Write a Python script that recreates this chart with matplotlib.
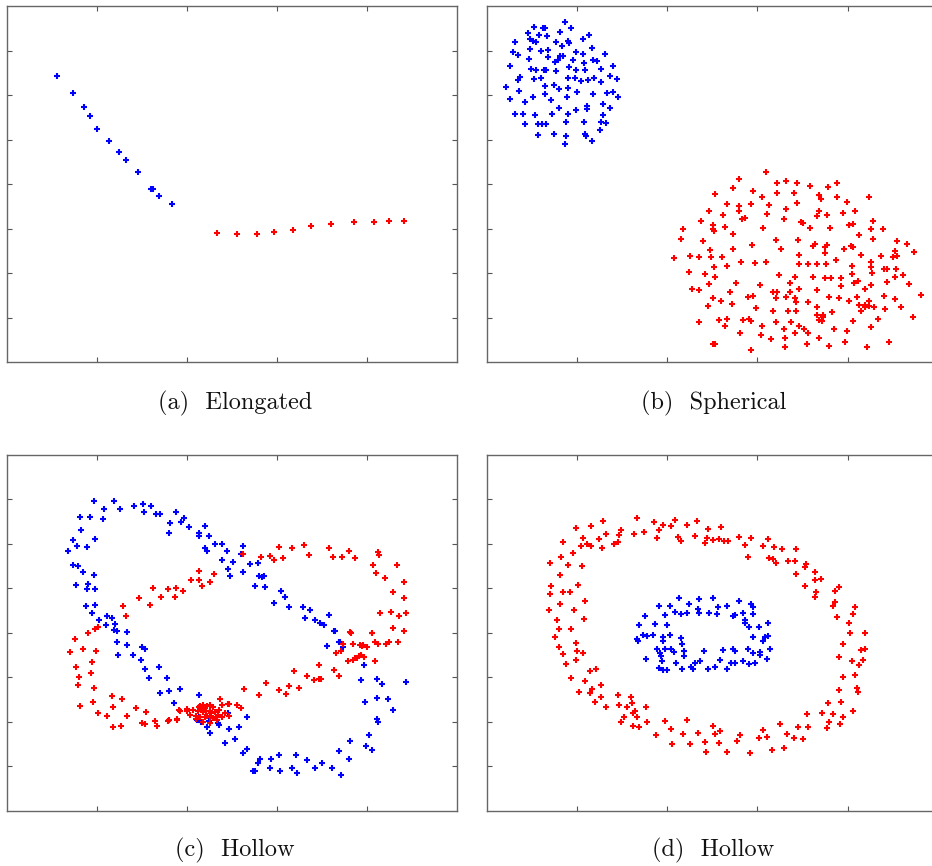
import numpy as np
from matplotlib import pyplot as plt

# Data (arbitrary units, frame is 1352 x 1068)
# (a) Elongated
a_blue_x = [152, 200, 231, 250, 271, 307, 337, 359, 393, 433, 438, 456, 497]
a_blue_y = [859, 807, 766, 739, 700, 664, 632, 608, 572, 521, 519, 498, 474]
a_red_x = [632, 690, 750, 802, 858, 913, 974, 1043, 1102, 1147, 1193]
a_red_y = [387, 384, 384, 390, 398, 408, 414, 420, 420, 423, 423]

# (b) Spherical
b_blue_x = [140, 167, 174, 235, 253, 123, 155, 180, 220, 307, 129, 137, 147, 84, 287, 207, 224, 243, 245, 314,
            130, 161, 183, 77, 92, 125, 183, 218, 227, 205, 212, 267, 289, 257, 292, 317, 331, 353, 70, 131,
            147, 170, 177, 207, 246, 267, 294, 343, 377, 93, 99, 140, 161, 242, 263, 282, 303, 321, 343, 369,
            391, 58, 97, 174, 173, 201, 215, 243, 269, 317, 359, 377, 393, 70, 113, 138, 193, 241, 267, 299,
            300, 349, 347, 370, 85, 109, 144, 195, 217, 243, 113, 152, 165, 178, 237, 290, 341, 357, 340, 153,
            201, 237, 293, 298, 314, 234]
b_blue_y = [1005, 1002, 1002, 1019, 1001, 987, 981, 977, 990, 981, 969, 962, 959, 961, 968, 959, 947, 962, 958, 942,
            939, 934, 937, 930, 922, 909, 915, 917, 917, 901, 905, 929, 925, 907, 897, 905, 903, 925, 887, 879,
            876, 876, 876, 874, 886, 877, 877, 878, 889, 847, 854, 848, 851, 853, 853, 843, 847, 853, 841, 857,
            850, 825, 812, 829, 805, 831, 819, 822, 809, 803, 808, 811, 795, 789, 781, 795, 786, 795, 755, 767,
            759, 773, 742, 761, 745, 745, 742, 745, 763, 745, 714, 714, 714, 714, 719, 721, 720, 717, 697, 680,
            683, 677, 684, 678, 663, 654]
b_red_x = [837, 757, 869, 897, 929, 969, 1023, 1049, 683, 739, 798, 825, 871, 921, 995, 1003, 1051, 1145, 665, 721,
           755, 755, 791, 845, 931, 997, 1021, 1067, 1081, 1105, 589, 643, 679, 707, 713, 764, 775, 841, 897, 941,
           949, 991, 1029, 1087, 1097, 1159, 581, 647, 677, 681, 737, 829, 891, 868, 933, 969, 983, 1019, 1091, 1099,
           1115, 1153, 1159, 1187, 1231, 1259, 561, 609, 635, 673, 705, 669, 737, 761, 795, 805, 837, 881, 935, 977,
           1013, 1015, 1047, 1071, 1095, 1121, 1151, 1183, 1223, 1219, 1229, 1281, 607, 653, 681, 683, 721, 747, 819, 877,
           909, 925, 937, 963, 989, 1017, 1013, 977, 1033, 1061, 1095, 1113, 1153, 1155, 1191, 1199, 1227, 1225, 1265, 615,
           637, 667, 729, 799, 857, 869, 909, 935, 991, 1061, 1101, 1133, 1153, 1199, 1247, 1303, 679, 703, 783, 867,
           897, 925, 927, 962, 991, 1027, 1057, 1085, 1109, 1117, 1133, 1147, 1161, 1145, 1191, 1195, 1223, 1241, 663, 735,
           807, 859, 903, 927, 989, 1007, 1005, 1035, 1123, 1135, 637, 697, 721, 767, 787, 793, 715, 825, 867, 891,
           913, 937, 951, 995, 1009, 1041, 1079, 1097, 1151, 1173, 1279, 759, 821, 851, 895, 923, 963, 995, 961, 683,
           677, 793, 895, 1027, 1075, 1141, 1205]
b_red_y = [570, 549, 539, 545, 539, 530, 526, 539, 504, 523, 515, 496, 508, 508, 501, 490, 495, 497, 453, 476,
           468, 453, 474, 473, 478, 455, 443, 449, 480, 453, 401, 423, 413, 443, 407, 431, 432, 445, 460, 422,
           419, 439, 402, 411, 415, 425, 370, 365, 399, 395, 384, 404, 430, 366, 367, 403, 354, 351, 350, 347,
           381, 399, 369, 400, 365, 354, 313, 318, 317, 316, 317, 338, 341, 300, 353, 298, 302, 339, 322, 348,
           329, 347, 308, 339, 290, 323, 300, 318, 335, 317, 319, 330, 271, 265, 287, 257, 289, 238, 232, 262,
           237, 256, 295, 295, 295, 295, 253, 255, 254, 254, 265, 245, 287, 269, 281, 279, 281, 255, 235, 220,
           217, 235, 210, 198, 211, 211, 212, 219, 217, 230, 237, 221, 232, 241, 261, 203, 194, 185, 197, 194,
           195, 194, 180, 180, 167, 197, 194, 184, 197, 172, 173, 169, 165, 185, 199, 161, 190, 166, 170, 175,
           163, 154, 153, 155, 141, 143, 125, 152, 155, 167, 121, 127, 129, 127, 129, 125, 109, 109, 122, 99,
           122, 109, 100, 128, 137, 101, 93, 123, 107, 129, 135, 89, 82, 69, 72, 89, 88, 74, 55, 55,
           55, 37, 45, 48, 62, 45, 60]

# (c) Hollow, two interlocked rings
c_blue_x = [263, 322, 293, 341, 220, 250, 289, 382, 408, 411, 432, 449, 461, 508, 491, 522, 533, 488, 546, 576,
            578, 596, 608, 200, 212, 241, 264, 223, 184, 594, 602, 626, 647, 662, 646, 680, 708, 703, 730, 753,
            200, 214, 228, 209, 245, 263, 266, 242, 239, 266, 256, 278, 302, 316, 298, 326, 321, 332, 360, 663,
            670, 710, 757, 766, 772, 745, 776, 823, 836, 802, 848, 890, 910, 896, 924, 940, 952, 968, 986, 331,
            360, 334, 380, 406, 414, 403, 415, 427, 457, 480, 460, 486, 521, 502, 578, 962, 998, 1008, 1072, 1064,
            1112, 1126, 1198, 1076, 1112, 1144, 1158, 1110, 1114, 1086, 1078, 1096, 1030, 1028, 996, 1002, 976, 946, 926, 900,
            868, 872, 856, 818, 820, 790, 792, 760, 755, 738, 746, 720, 708, 686, 654, 668, 698, 638, 610, 602,
            582, 608, 578, 720, 570, 635, 665, 982, 1000]
c_blue_y = [929, 929, 905, 905, 881, 881, 875, 913, 920, 895, 913, 891, 891, 895, 864, 867, 878, 833, 851, 833,
            825, 855, 825, 813, 795, 792, 816, 843, 779, 788, 779, 800, 800, 779, 751, 746, 795, 770, 739, 744,
            736, 733, 717, 677, 681, 707, 665, 665, 614, 618, 594, 573, 585, 579, 557, 562, 544, 540, 538, 725,
            703, 715, 703, 701, 703, 676, 672, 661, 643, 625, 613, 613, 602, 578, 573, 563, 557, 587, 541, 507,
            497, 468, 469, 493, 487, 452, 427, 398, 433, 399, 355, 361, 365, 323, 349, 494, 507, 493, 437, 393,
            397, 382, 386, 327, 339, 337, 303, 275, 267, 227, 196, 184, 211, 156, 181, 109, 129, 145, 129, 153,
            167, 113, 129, 167, 121, 128, 157, 155, 145, 121, 121, 186, 175, 217, 205, 247, 253, 258, 235, 253,
            268, 271, 281, 281, 273, 263, 293, 541, 508]
c_red_x = [190, 204, 230, 267, 243, 266, 274, 257, 209, 216, 214, 252, 262, 220, 260, 273, 302, 315, 318, 346,
           343, 320, 362, 388, 418, 406, 416, 446, 452, 484, 512, 516, 540, 550, 568, 578, 586, 592, 600, 612,
           620, 630, 640, 638, 668, 666, 690, 702, 713, 758, 777, 816, 838, 848, 876, 862, 902, 922, 936, 944,
           938, 982, 996, 988, 1002, 1010, 1024, 1038, 1044, 1058, 1072, 1066, 1080, 1104, 1032, 1096, 1104, 1114, 1138, 1146,
           1174, 1160, 1192, 1120, 1152, 1176, 1198, 1160, 1192, 1192, 1134, 1108, 1100, 1170, 1114, 1118, 1044, 1028, 1006, 980,
           968, 908, 892, 856, 816, 828, 802, 790, 764, 710, 622, 610, 578, 576, 587, 554, 528, 508, 505, 483,
           464, 438, 430, 397, 358, 348,
           # dense knot where the two rings cross at the bottom
           580, 590, 600, 610, 620, 645, 665, 560, 575, 588, 598, 610, 625, 520, 540, 568, 580, 595,
           610, 620, 635, 645, 655, 590, 610, 630, 488, 510, 1062, 1052, 1030, 1095, 1040, 1060, 1070]
c_red_y = [476, 517, 485, 480, 535, 547, 553, 447, 431, 403, 379, 413, 369, 316, 328, 295, 285, 345, 313, 336,
           255, 251, 285, 309, 297, 263, 261, 269, 255, 271, 277, 303, 305, 287, 277, 313, 305, 311, 285, 295,
           279, 283, 335, 303, 321, 285, 317, 309, 366, 347, 384, 363, 350, 376, 369, 421, 405, 393, 397, 397,
           437, 423, 405, 473, 479, 501, 451, 453, 459, 465, 461, 496, 493, 451, 533, 533, 507, 501, 501, 507,
           507, 549, 541, 595, 597, 585, 595, 657, 639, 687, 697, 713, 738, 737, 775, 767, 757, 779, 761, 761,
           787, 766, 797, 789, 792, 757, 751, 763, 761, 769, 709, 688, 719, 693, 676, 691, 661, 668, 643, 665,
           641, 670, 619, 640, 585, 615,
           315, 318, 315, 318, 313, 318, 321, 303, 301, 298, 301, 301, 298, 301, 301, 285, 283, 281,
           283, 278, 288, 283, 293, 268, 265, 273, 273, 273, 468, 458, 538, 533, 501, 498, 498]

# (d) Hollow, ring around a ring
d_red_x = [347, 449, 501, 529, 551, 563, 601, 631, 662, 703, 267, 311, 357, 403, 441, 471, 517, 573, 581, 625,
           661, 677, 697, 711, 723, 653, 755, 793, 843, 827, 861, 885, 927, 775, 783, 289, 299, 335, 345, 397,
           393, 381, 511, 227, 221, 257, 283, 313, 243, 285, 189, 219, 273, 191, 189, 227, 249, 220, 187, 261,
           293, 209, 215, 251, 291, 205, 215, 229, 237, 267, 271, 287, 267, 253, 295, 309, 327, 275, 315, 309,
           323, 343, 343, 357, 393, 397, 431, 435, 419, 445, 437, 449, 477, 481, 403, 411, 439, 457, 507, 535,
           551, 555, 587, 599, 609, 633, 657, 655, 679, 685, 697, 699, 719, 749, 759, 789, 815, 827, 841, 855,
           879, 891, 899, 921, 933, 947, 963, 959, 1005, 1021, 1025, 1037, 1059, 1067, 1097, 1023, 1061, 1057, 1069, 1103,
           1109, 1113, 1057, 1095, 1117, 1127, 1123, 1133, 1067, 1089, 1133, 1087, 1049, 1099, 1105, 1043, 1045, 1055, 1037, 983,
           987, 983, 1001, 955, 927, 953, 957, 903, 923, 867, 859, 845, 983]
d_red_y = [869, 878, 866, 857, 854, 873, 857, 868, 844, 851, 848, 853, 831, 841, 831, 835, 843, 821, 810, 825,
           818, 813, 815, 810, 808, 803, 822, 818, 815, 793, 791, 785, 785, 797, 761, 817, 801, 815, 789, 827,
           806, 801, 817, 807, 762, 772, 793, 795, 737, 735, 744, 708, 679, 674, 650, 657, 657, 621, 604, 603,
           629, 573, 547, 547, 577, 522, 493, 470, 440, 505, 479, 473, 453, 399, 391, 421, 427, 357, 367, 353,
           326, 377, 341, 311, 347, 319, 341, 323, 313, 301, 295, 283, 311, 268, 268, 283, 255, 251, 228, 269,
           247, 201, 230, 273, 201, 234, 177, 207, 255, 231, 205, 241, 177, 211, 229, 173, 218, 243, 221, 183,
           261, 189, 231, 220, 251, 216, 253, 291, 295, 249, 268, 291, 261, 283, 301, 325, 327, 363, 403, 408,
           368, 357, 461, 451, 437, 453, 483, 485, 501, 534, 535, 565, 583, 591, 613, 627, 659, 672, 615, 643,
           657, 692, 695, 675, 711, 731, 739, 750, 750, 743, 755, 759, 717]
d_blue_x = [577, 637, 679, 755, 793, 799, 515, 549, 607, 633, 635, 667, 693, 719, 689, 737, 745, 767, 799, 457,
            475, 503, 533, 541, 565, 582, 599, 773, 775, 787, 817, 843, 467, 479, 449, 453, 497, 527, 527, 549,
            581, 585, 797, 833, 843, 849, 829, 477, 509, 519, 521, 535, 553, 561, 591, 591, 651, 707, 737, 743,
            783, 819, 819, 525, 529, 517, 539, 567, 585, 613, 619, 625, 639, 663, 685, 699, 721, 733, 743, 767,
            785, 805, 839, 799]
d_blue_y = [639, 637, 639, 629, 621, 611, 615, 615, 621, 607, 595, 593, 613, 615, 591, 585, 589, 593, 591, 559,
            586, 561, 589, 558, 596, 592, 593, 573, 563, 551, 553, 563, 529, 526, 515, 509, 527, 521, 509, 529,
            519, 501, 523, 523, 525, 487, 509, 455, 487, 473, 465, 485, 487, 477, 479, 465, 479, 482, 485, 479,
            487, 477, 467, 451, 423, 429, 423, 445, 425, 433, 425, 443, 451, 425, 433, 453, 425, 445, 445, 451,
            441, 445, 455, 473]

panels = [
    ('(a)  Elongated', a_blue_x, a_blue_y, a_red_x, a_red_y),
    ('(b)  Spherical', b_blue_x, b_blue_y, b_red_x, b_red_y),
    ('(c)  Hollow', c_blue_x, c_blue_y, c_red_x, c_red_y),
    ('(d)  Hollow', d_blue_x, d_blue_y, d_red_x, d_red_y),
]

# axes boxes in figure fraction (right column runs off the page)
boxes = [
    [0.0072, 0.5816, 0.4836, 0.4114],
    [0.5225, 0.5816, 0.4836, 0.4114],
    [0.0072, 0.0635, 0.4836, 0.4114],
    [0.5225, 0.0635, 0.4836, 0.4114],
]
caption_pos = [(0.252, 0.534), (0.766, 0.534), (0.252, 0.0185), (0.765, 0.0185)]

fig = plt.figure(figsize=(9.32, 8.66), dpi=100)

for (title, bx, by, rx, ry), box, cpos in zip(panels, boxes, caption_pos):
    ax = fig.add_axes(box)
    ax.plot(bx, by, '+', color='#0000ff', markersize=4, mew=1.5)
    ax.plot(rx, ry, '+', color='#ff0000', markersize=4, mew=1.5)
    ax.set_xlim(0, 1352)
    ax.set_ylim(0, 1068)
    ax.set_xticks(np.linspace(0, 1352, 6)[1:-1])
    ax.set_yticks(np.linspace(0, 1068, 9)[1:-1])
    ax.tick_params(direction='in', length=3.5, width=0.8, color='#555555',
                   top=True, right=True, labelbottom=False, labelleft=False)
    for sp in ax.spines.values():
        sp.set_color('#666666')
        sp.set_linewidth(1.0)
    fig.text(cpos[0], cpos[1], title, ha='center', va='center',
             fontfamily='cmr10', fontsize=17.5, color='#111111')

fig.savefig('out.png', dpi=100)
